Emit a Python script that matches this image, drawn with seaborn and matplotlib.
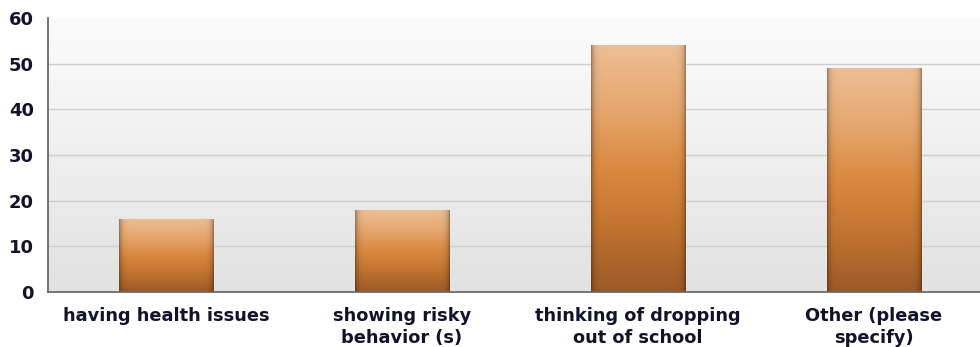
import numpy as np
import pandas as pd
import matplotlib
matplotlib.use("Agg")
import matplotlib.pyplot as plt
from matplotlib.colors import LinearSegmentedColormap
import seaborn as sns

categories = [
    "having health issues",
    "showing risky\nbehavior (s)",
    "thinking of dropping\nout of school",
    "Other (please\nspecify)",
]
counts = [16, 18, 54, 49]
y_ticks = [0, 10, 20, 30, 40, 50, 60]

df = pd.DataFrame({"category": categories, "count": counts})

sns.set_theme(style="white")
plt.rcParams["font.family"] = ["DejaVu Sans"]

fig = plt.figure(figsize=(9.8, 3.47), dpi=100)
ax = fig.add_axes([48 / 980, 1 - 292 / 347, 944 / 980, 274 / 347])

sns.barplot(data=df, x="category", y="count", ax=ax, width=0.4,
            color="#d98a40", edgecolor="none", linewidth=0, zorder=3)

# soft vertical gradient behind the plot: light at the top, grey at the base
bg = LinearSegmentedColormap.from_list("bg", ["#fcfcfc", "#e2e2e2"])
ax.imshow(np.linspace(1, 0, 256).reshape(-1, 1), cmap=bg, aspect="auto",
          extent=[-0.5, 3.5, 0, 60], origin="lower", zorder=0,
          interpolation="bilinear")

# horizontal guide lines between the bottom and the top of the scale
for t in y_ticks[1:-1]:
    ax.axhline(t, color="#cdcdcd", linewidth=1, zorder=1)

# shaded fill for each bar: light top, orange middle, brown base,
# with darker vertical rims on both sides
bar_cmap = LinearSegmentedColormap.from_list(
    "bar", ["#eebf95", "#e6a870", "#da8940", "#c0732f", "#9c5a28"])
ny, nx = 256, 96
vert = bar_cmap(np.linspace(0, 1, ny))[:, :3]          # row 0 = top
xs = np.linspace(0, 1, nx)
edge = np.minimum(xs, 1 - xs) * nx
rim = 1 - 0.33 * np.exp(-edge / 2.6)
img = vert[:, None, :] * rim[None, :, None]
for patch in ax.patches:
    x0, y0 = patch.get_x(), patch.get_y()
    w, h = patch.get_width(), patch.get_height()
    im = ax.imshow(img, aspect="auto", extent=[x0, x0 + w, y0, y0 + h],
                   origin="upper", zorder=4, interpolation="bilinear")
    im.set_clip_path(patch)
    patch.set_facecolor("none")

ax.set_xlim(-0.5, 3.5)
ax.set_ylim(0, 60)

ax.set_yticks(y_ticks)
ax.grid(False)
for s in ["top", "right"]:
    ax.spines[s].set_visible(False)
for s in ["left", "bottom"]:
    ax.spines[s].set_color("#6a6a6a")
    ax.spines[s].set_linewidth(1.3)
    ax.spines[s].set_zorder(6)

ax.tick_params(axis="both", which="major", length=5, width=1, color="#6a6a6a",
               labelcolor="#12122a", pad=4)
ax.tick_params(axis="y", labelsize=13, pad=5)
ax.tick_params(axis="x", labelsize=12.8, pad=6)
for lab in ax.get_xticklabels() + ax.get_yticklabels():
    lab.set_fontweight("bold")
for lab in ax.get_xticklabels():
    lab.set_linespacing(1.3)

ax.set_xlabel("")
ax.set_ylabel("")

fig.savefig("out.png", dpi=100)
